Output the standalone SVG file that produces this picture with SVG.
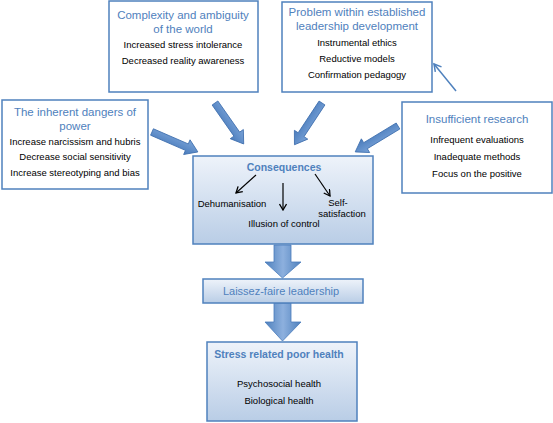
<svg xmlns="http://www.w3.org/2000/svg" width="553" height="423" viewBox="0 0 553 423">
<defs>
<style>
.box{fill:#ffffff;stroke:#4f81bd;stroke-width:1.5}
.gbox{fill:url(#bg);stroke:#4f81bd;stroke-width:1.5}
.t{font-family:"Liberation Sans",Arial,sans-serif;font-size:11.5px;fill:#4f81bd;text-anchor:middle}
.tb{font-family:"Liberation Sans",Arial,sans-serif;font-size:10.5px;font-weight:bold;fill:#4f81bd;text-anchor:middle}
.b{font-family:"Liberation Sans",Arial,sans-serif;font-size:9.5px;fill:#000000;text-anchor:middle}
.blk{fill:url(#ag);stroke:#3f6fae;stroke-width:0.8}
.thin{stroke:#000;stroke-width:1.2;fill:none;marker-end:url(#ka)}
</style>
<linearGradient id="bg" x1="0" y1="0" x2="0" y2="1">
<stop offset="0" stop-color="#eef3fa"/>
<stop offset="1" stop-color="#b9cde6"/>
</linearGradient>
<linearGradient id="ag" x1="0" y1="0" x2="0" y2="1">
<stop offset="0" stop-color="#7aa3d8"/>
<stop offset="1" stop-color="#4a7cbc"/>
</linearGradient>
<linearGradient id="dg" x1="0" y1="0" x2="1" y2="0">
<stop offset="0" stop-color="#4f81bd"/>
<stop offset="0.5" stop-color="#8db0de"/>
<stop offset="1" stop-color="#4f81bd"/>
</linearGradient>
<marker id="ka" markerWidth="8" markerHeight="8" refX="7" refY="4" orient="auto" markerUnits="userSpaceOnUse">
<path d="M1,0.5 L7,4 L1,7.5" fill="none" stroke="#000" stroke-width="1.3"/>
</marker>
<marker id="ba" markerWidth="10" markerHeight="10" refX="8" refY="5" orient="auto" markerUnits="userSpaceOnUse">
<path d="M1,1 L8,5 L1,9" fill="none" stroke="#4f81bd" stroke-width="1.5"/>
</marker>
<path id="blk" d="M0,-3.5 L38,-3.5 L38,-8 L50,0 L38,8 L38,3.5 L0,3.5 Z"/>
</defs>

<g id="connectors">
<use href="#blk" class="blk" transform="translate(152,132) rotate(23.5)"/>
<use href="#blk" class="blk" transform="translate(215,103) rotate(55)"/>
<use href="#blk" class="blk" transform="translate(322,103) rotate(123.4)"/>
<use href="#blk" class="blk" transform="translate(398,126) rotate(148.8)"/>
<line x1="456" y1="91" x2="434" y2="64" stroke="#4f81bd" stroke-width="1.5" marker-end="url(#ba)"/>
<path d="M274,245 L291,245 L291,262 L301,262 L282.5,278 L265,262 L274,262 Z" fill="url(#dg)" stroke="#4a7cbc" stroke-width="0.8"/>
<path d="M274,303 L291,303 L291,322 L301,322 L282.5,341 L265,322 L274,322 Z" fill="url(#dg)" stroke="#4a7cbc" stroke-width="0.8"/>
</g>

<g id="complexity">
<rect class="box" x="109" y="1" width="149" height="91"/>
<text class="t" x="183" y="19">Complexity and ambiguity</text>
<text class="t" x="183" y="33">of the world</text>
<text class="b" x="183" y="48">Increased stress intolerance</text>
<text class="b" x="183" y="64">Decreased reality awareness</text>
</g>

<g id="problem">
<rect class="box" x="282" y="2" width="150" height="90"/>
<text class="t" x="357" y="16">Problem within established</text>
<text class="t" x="357" y="30">leadership development</text>
<text class="b" x="357" y="46">Instrumental ethics</text>
<text class="b" x="357" y="62">Reductive models</text>
<text class="b" x="357" y="78">Confirmation pedagogy</text>
</g>

<g id="dangers">
<rect class="box" x="2" y="100" width="146" height="89"/>
<text class="t" x="75" y="116">The inherent dangers of</text>
<text class="t" x="75" y="130">power</text>
<text class="b" x="75" y="145">Increase narcissism and hubris</text>
<text class="b" x="75" y="160">Decrease social sensitivity</text>
<text class="b" x="75" y="176">Increase stereotyping and bias</text>
</g>

<g id="insufficient">
<rect class="box" x="402" y="102" width="150" height="91"/>
<text class="t" x="477" y="123">Insufficient research</text>
<text class="b" x="477" y="143">Infrequent evaluations</text>
<text class="b" x="477" y="160">Inadequate methods</text>
<text class="b" x="477" y="177">Focus on the positive</text>
</g>

<g id="consequences">
<rect class="gbox" x="193" y="156" width="180" height="88"/>
<text class="tb" x="284" y="171">Consequences</text>
<line class="thin" x1="256" y1="175" x2="236" y2="193"/>
<line class="thin" x1="283" y1="183" x2="283" y2="210"/>
<line class="thin" x1="315" y1="174" x2="330" y2="196"/>
<text class="b" x="232" y="207">Dehumanisation</text>
<text class="b" x="338" y="206">Self-</text>
<text class="b" x="342" y="217">satisfaction</text>
<text class="b" x="284" y="227">Illusion of control</text>
</g>

<g id="laissez">
<rect class="gbox" x="203" y="279" width="160" height="24"/>
<text class="t" x="281" y="295" style="font-size:11px">Laissez-faire leadership</text>
</g>

<g id="stress">
<rect class="gbox" x="207" y="342" width="150" height="79"/>
<text class="tb" x="279" y="358">Stress related poor health</text>
<text class="b" x="279" y="387">Psychosocial health</text>
<text class="b" x="279" y="404">Biological health</text>
</g>
</svg>
